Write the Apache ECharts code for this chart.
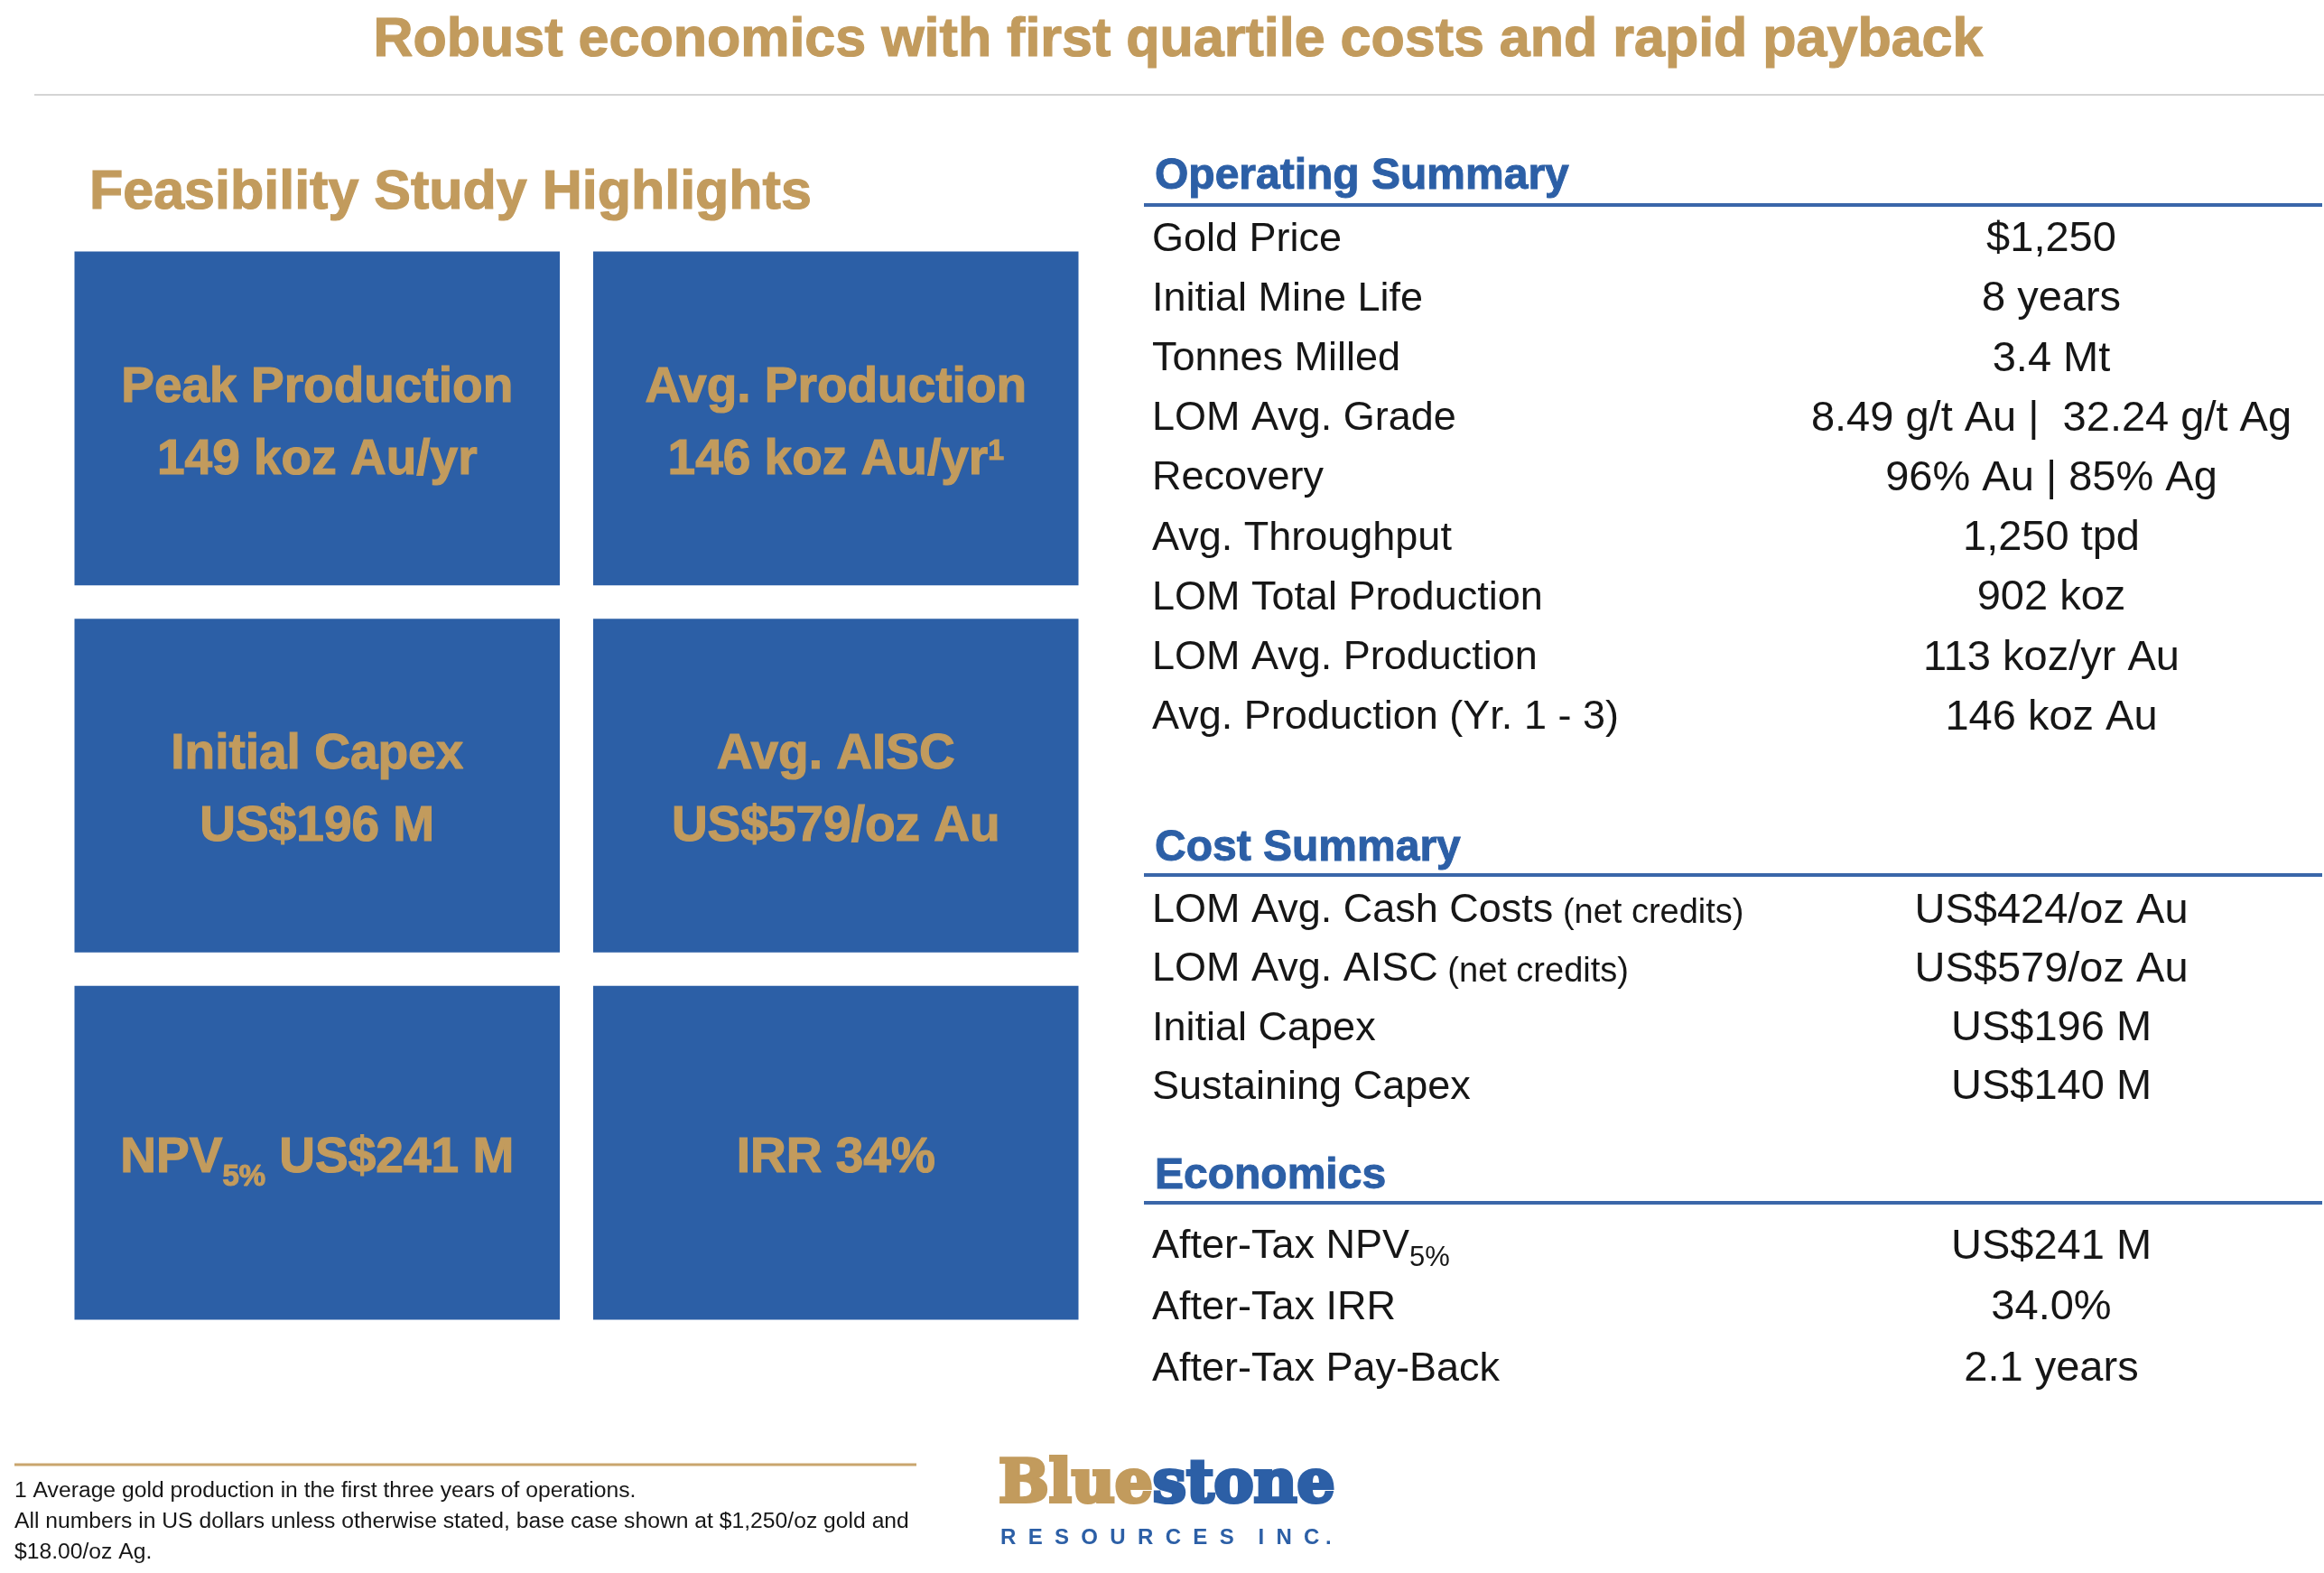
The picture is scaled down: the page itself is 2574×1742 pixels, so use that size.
<!DOCTYPE html>
<html>
<head>
<meta charset="utf-8">
<title>Feasibility Study Highlights</title>
<script src="https://cdn.jsdelivr.net/npm/echarts@6.0.0/dist/echarts.min.js"></script>
<style>
    html, body { margin: 0; padding: 0; background: #fff; }
    #chart { width: 2574px; height: 1742px; }
</style>
</head>
<body>
<div id="chart"></div>
<script>
// tiles (left side)
var tileCols = ['left', 'right'];
var tileRows = ['top', 'middle', 'bottom'];
var tileHeads = ['Peak Production', 'Avg. Production', 'Initial Capex', 'Avg. AISC', 'NPV', 'IRR'];
var tileFigures = ['149 koz Au/yr', '146 koz Au/yr', 'US$196 M', 'US$579/oz Au', 'US$241 M', '34%'];
var tileSups = ['', '1', '', '', '', ''];
var tileSubs = ['', '', '', '', '5%', ''];
var tileOneLine = [false, false, false, false, true, true];

// Operating Summary
var opLabels = ['Gold Price', 'Initial Mine Life', 'Tonnes Milled', 'LOM Avg. Grade', 'Recovery',
    'Avg. Throughput', 'LOM Total Production', 'LOM Avg. Production', 'Avg. Production (Yr. 1 - 3)'];
var opValues = ['$1,250', '8 years', '3.4 Mt', '8.49 g/t Au |  32.24 g/t Ag', '96% Au | 85% Ag',
    '1,250 tpd', '902 koz', '113 koz/yr Au', '146 koz Au'];

// Cost Summary
var costLabels = ['LOM Avg. Cash Costs', 'LOM Avg. AISC', 'Initial Capex', 'Sustaining Capex'];
var costNotes = ['(net credits)', '(net credits)', '', ''];
var costValues = ['US$424/oz Au', 'US$579/oz Au', 'US$196 M', 'US$140 M'];

// Economics
var ecoLabels = ['After-Tax NPV', 'After-Tax IRR', 'After-Tax Pay-Back'];
var ecoSubs = ['5%', '', ''];
var ecoValues = ['US$241 M', '34.0%', '2.1 years'];

var footnotes = ['1 Average gold production in the first three years of operations.',
    'All numbers in US dollars unless otherwise stated, base case shown at $1,250/oz gold and',
    '$18.00/oz Ag.'];

var BLUE = '#2c5fa6';
var LINE_BLUE = '#3a66a9';
var GOLD = '#c29b5d';
var INK = '#161616';
var FONT = '"Liberation Sans", Arial, sans-serif';

var myChart = echarts.init(document.getElementById('chart'));

//方块文字
function goldBold(size, lh, va, pad) {
    return {
        fontFamily: FONT, fontWeight: 'bold', fontSize: size, fill: GOLD, stroke: GOLD, lineWidth: 1.2,
        lineHeight: lh, verticalAlign: va, padding: pad
    };
}
var tileRich = {
    t: goldBold(55, 80),
    t1: goldBold(55, 70),
    sup: goldBold(32, 20, 'top', [15, 0, 0, 0]),
    sub: goldBold(33, 20, 'top', [40, 0, 0, 0])
};

function tileText(i) {
    if (tileOneLine[i]) {
        var s = '{t1|' + tileHeads[i] + '}';
        if (tileSubs[i]) {
            s += '{sub|' + tileSubs[i] + '}';
        }
        return s + '{t1| ' + tileFigures[i] + '}';
    }
    var txt = '{t|' + tileHeads[i] + '}\n{t|' + tileFigures[i] + '}';
    if (tileSups[i]) {
        txt += '{sup|' + tileSups[i] + '}';
    }
    return txt;
}

var tileData = [];
for (var i = 0; i < tileHeads.length; i++) {
    tileData.push([i % 2, Math.floor(i / 2)]);
}

function renderTile(params, api) {
    var c = api.coord([api.value(0), api.value(1)]);
    var s = api.size([1, 1]);
    var gap = 18.5;
    return {
        type: 'group',
        children: [
            {
                type: 'rect',
                shape: { x: c[0] - s[0] / 2 + gap, y: c[1] - s[1] / 2 + gap, width: s[0] - gap * 2, height: s[1] - gap * 2 },
                style: { fill: BLUE }
            },
            {
                type: 'text',
                x: c[0],
                y: c[1] + 6,
                style: { text: tileText(params.dataIndex), rich: tileRich, align: 'center', verticalAlign: 'middle' }
            }
        ]
    };
}

//表格
var rowRich = {
    m: { fontFamily: FONT, fontSize: 45, fill: INK, lineHeight: 56 },
    n: { fontFamily: FONT, fontSize: 38, fill: INK, lineHeight: 40, verticalAlign: 'middle', padding: [5, 0, 0, 0] },
    s: { fontFamily: FONT, fontSize: 31, fill: INK, lineHeight: 26, verticalAlign: 'bottom' }
};

function tableRenderer(labels, values, notes, subs) {
    return function (params, api) {
        var i = api.value(1);
        var a = api.coord([0, i]);
        var b = api.coord([1, i]);
        var txt = '{m|' + labels[i] + '}';
        if (notes && notes[i]) {
            txt += '{n| ' + notes[i] + '}';
        }
        if (subs && subs[i]) {
            txt += '{s|' + subs[i] + '}';
        }
        return {
            type: 'group',
            children: [
                { type: 'text', x: a[0], y: a[1], style: { text: txt, rich: rowRich, align: 'left', verticalAlign: 'middle' } },
                {
                    type: 'text', x: b[0], y: b[1],
                    style: { text: values[i], fontFamily: FONT, fontSize: 47, fill: INK, align: 'center', verticalAlign: 'middle' }
                }
            ]
        };
    };
}

function rowData(list) {
    var arr = [];
    for (var i = 0; i < list.length; i++) {
        arr.push([0, i]);
    }
    return arr;
}

function hiddenAxis(gridIndex, data) {
    return {
        type: 'category', gridIndex: gridIndex, data: data, boundaryGap: false,
        axisLine: { show: false }, axisTick: { show: false }, axisLabel: { show: false }, splitLine: { show: false }
    };
}

function hiddenYAxis(gridIndex, data) {
    return {
        type: 'category', gridIndex: gridIndex, data: data, inverse: true,
        axisLine: { show: false }, axisTick: { show: false }, axisLabel: { show: false }, splitLine: { show: false }
    };
}

var graphics = [
    {
        type: 'text', x: 1305, y: 45,
        style: { text: 'Robust economics with first quartile costs and rapid payback', fontFamily: FONT, fontWeight: 'bold', fontSize: 61, fill: GOLD, stroke: GOLD, lineWidth: 1.2, align: 'center', verticalAlign: 'middle' }
    },
    { type: 'line', shape: { x1: 38, y1: 105, x2: 2574, y2: 105 }, style: { stroke: '#d4d4d4', lineWidth: 2 } },
    {
        type: 'text', x: 99, y: 214,
        style: { text: 'Feasibility Study Highlights', fontFamily: FONT, fontWeight: 'bold', fontSize: 61, fill: GOLD, stroke: GOLD, lineWidth: 1.2, align: 'left', verticalAlign: 'middle' }
    }
];

var headings = [['Operating Summary', 196, 227], ['Cost Summary', 940, 969], ['Economics', 1303, 1332]];
for (var h = 0; h < headings.length; h++) {
    graphics.push({
        type: 'text', x: 1279, y: headings[h][1],
        style: { text: headings[h][0], fontFamily: FONT, fontWeight: 'bold', fontSize: 48, fill: BLUE, stroke: BLUE, lineWidth: 1, align: 'left', verticalAlign: 'middle' }
    });
    graphics.push({
        type: 'line', shape: { x1: 1267, y1: headings[h][2], x2: 2572, y2: headings[h][2] },
        style: { stroke: LINE_BLUE, lineWidth: 4 }
    });
}

//脚注
graphics.push({ type: 'line', shape: { x1: 16, y1: 1622, x2: 1015, y2: 1622 }, style: { stroke: '#c9a56d', lineWidth: 3 } });
for (var f = 0; f < footnotes.length; f++) {
    graphics.push({
        type: 'text', x: 16, y: 1651 + f * 34,
        style: { text: footnotes[f], fontFamily: FONT, fontSize: 24.7, fill: INK, align: 'left', verticalAlign: 'middle' }
    });
}

// logo
graphics.push({
    type: 'text', x: 1106, y: 1646,
    style: {
        text: '{a|Blue}{b|stone}', align: 'left', verticalAlign: 'middle',
        rich: {
            a: { fontFamily: '"DejaVu Serif", serif', fontWeight: 'bold', fontSize: 66, fill: GOLD, stroke: GOLD, lineWidth: 4 },
            b: { fontFamily: '"DejaVu Serif", serif', fontWeight: 'bold', fontSize: 66, fill: BLUE, stroke: BLUE, lineWidth: 4 }
        }
    }
});
graphics.push({
    type: 'text', x: 1108, y: 1703,
    style: { text: 'R  E  S  O  U  R  C  E  S    I  N  C .', fontFamily: FONT, fontWeight: 'bold', fontSize: 24, fill: BLUE, align: 'left', verticalAlign: 'middle' }
});

var option = {
    backgroundColor: '#ffffff',
    animation: false,
    grid: [
        { left: 64, top: 260, width: 1149, height: 1220 },
        { left: 1276, top: 232, width: 996, height: 596 },
        { left: 1276, top: 976, width: 996, height: 261 },
        { left: 1276, top: 1347, width: 996, height: 203 }
    ],
    xAxis: [
        {
            type: 'category', gridIndex: 0, data: tileCols,
            axisLine: { show: false }, axisTick: { show: false }, axisLabel: { show: false }, splitLine: { show: false }
        },
        hiddenAxis(1, ['label', 'value']),
        hiddenAxis(2, ['label', 'value']),
        hiddenAxis(3, ['label', 'value'])
    ],
    yAxis: [
        hiddenYAxis(0, tileRows),
        hiddenYAxis(1, opLabels),
        hiddenYAxis(2, costLabels),
        hiddenYAxis(3, ecoLabels)
    ],
    series: [
        { type: 'custom', xAxisIndex: 0, yAxisIndex: 0, data: tileData, renderItem: renderTile },
        { type: 'custom', xAxisIndex: 1, yAxisIndex: 1, data: rowData(opLabels), renderItem: tableRenderer(opLabels, opValues) },
        { type: 'custom', xAxisIndex: 2, yAxisIndex: 2, data: rowData(costLabels), renderItem: tableRenderer(costLabels, costValues, costNotes) },
        { type: 'custom', xAxisIndex: 3, yAxisIndex: 3, data: rowData(ecoLabels), renderItem: tableRenderer(ecoLabels, ecoValues, null, ecoSubs) }
    ],
    graphic: graphics
};
myChart.setOption(option);
</script>
</body>
</html>
